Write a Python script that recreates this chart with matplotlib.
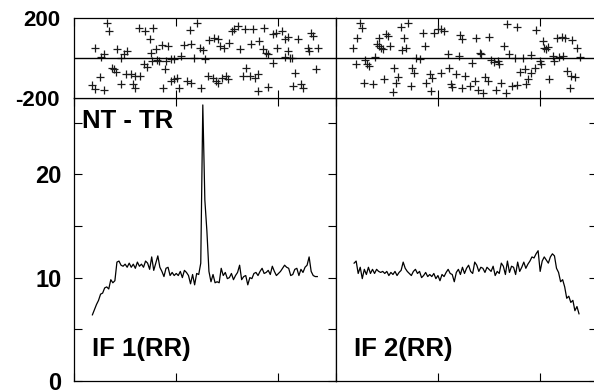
import numpy as np
import matplotlib
matplotlib.use("Agg")
import matplotlib.pyplot as plt
from matplotlib.ticker import MultipleLocator

plt.rcParams["font.family"] = ["Liberation Sans", "DejaVu Sans"]
plt.rcParams["font.weight"] = "bold"
plt.rcParams["axes.unicode_minus"] = False

# ---------------------------------------------------------------------------
# Data
# ---------------------------------------------------------------------------

CHANNELS = np.arange(18, 239, 2)

AMP_IF1 = [
    6.4, 6.9, 7.4, 7.8, 8.4, 8.5, 9.0, 9.1, 8.9, 9.8,
    9.5, 9.7, 11.5, 11.6, 11.2, 11.1, 11.3, 11.0, 11.4, 11.0,
    11.3, 10.9, 11.5, 11.1, 11.3, 11.0, 11.6, 11.4, 10.8, 12.0,
    10.7, 11.4, 12.1, 11.0, 10.6, 10.1, 10.9, 11.0, 10.2, 10.5,
    10.2, 10.4, 10.2, 10.6, 10.0, 10.7, 10.5, 10.2, 9.4, 10.3,
    9.3, 10.4, 10.3, 11.4, 26.7, 17.5, 14.5, 10.6, 9.6, 10.3,
    9.5, 9.6, 9.5, 10.9, 10.2, 10.5, 9.9, 10.0, 10.4, 9.8,
    10.2, 10.5, 11.2, 9.8, 10.1, 10.2, 9.3, 10.0, 9.9, 10.4,
    10.5, 10.2, 10.6, 10.9, 10.4, 10.5, 10.7, 10.3, 11.1, 10.6,
    10.2, 10.4, 10.6, 10.9, 11.2, 11.0, 10.9, 10.2, 10.3, 10.8,
    10.9, 10.2, 10.8, 10.5, 11.0, 11.2, 12.0, 10.6, 10.2, 10.1,
    10.1,
]

AMP_IF2 = [
    11.4, 11.6, 10.4, 11.0, 9.9, 10.8, 10.3, 11.0, 10.4, 10.8,
    10.4, 10.8, 10.6, 10.5, 10.6, 10.4, 10.6, 10.2, 10.5, 10.3,
    10.6, 10.2, 10.5, 10.7, 11.5, 10.9, 10.6, 10.4, 10.2, 10.6,
    10.8, 10.4, 10.6, 10.0, 10.2, 10.5, 10.1, 10.3, 10.1, 10.4,
    9.9, 10.2, 9.7, 10.3, 10.1, 10.5, 10.8, 10.4, 10.3, 9.6,
    10.5, 10.8, 10.3, 11.0, 10.4, 10.9, 11.2, 10.6, 10.4, 11.5,
    11.2, 10.6, 11.0, 10.9, 10.5, 11.0, 10.8, 10.6, 11.1, 10.2,
    10.6, 10.4, 11.4, 11.1, 10.3, 11.6, 10.5, 11.1, 11.0, 10.3,
    11.5, 10.6, 11.0, 11.5, 10.9, 11.3, 11.6, 12.0, 11.9, 12.3,
    12.6, 10.6, 11.6, 12.0, 11.7, 11.4, 12.0, 12.3, 12.1, 10.9,
    10.5, 9.6, 9.8, 9.1, 8.0, 8.2, 7.6, 7.8, 6.8, 7.2,
    6.5,
]

# phase points (channel, degrees)
PH_IF1_CH = [
    32, 34, 21, 29, 26, 42, 46, 49, 52, 64, 69, 77, 74, 75, 80, 86, 92,
    76, 68, 71, 81, 83, 90, 95, 98, 89, 37, 39, 41, 51, 56, 60, 65, 25,
    18, 21, 29, 46, 58, 60, 87, 98, 101, 95, 103, 111, 114, 124, 105, 108,
    114, 123, 126, 120, 113, 117, 128,
    157, 160, 155, 167, 175, 186, 195, 198, 203, 206, 209, 219, 232, 234,
    132, 137, 141, 143, 147, 152, 162, 173, 181, 185, 188, 190, 199, 209,
    229, 230, 239, 195, 206, 211, 213, 131, 136, 139, 141, 145, 149, 151,
    165, 168, 172, 177, 180, 216, 237, 180, 190, 214, 222, 224,
]
PH_IF1_DEG = [
    175, 133, 50, 20, 3, 45, 0, 17, 33, 147, 133, 147, 95, 25, 42, 63, 58,
    -17, -30, -47, -13, -17, -17, -8, -5, -58, -50, -58, -70, -83, -83, -92, -92, -97,
    -137, -158, -163, -133, -133, -153, -153, -108, -100, -117, -153, -117, -125, -150, 8, 63,
    70, 50, 37, 175, 137, 0, -8,
    142, 158, 133, 142, 142, 150, 117, 125, 133, 92, 103, 92, 125, 108,
    87, 100, 92, 58, 50, 75, 42, 67, 83, 42, 25, 17, 50, 33,
    50, 33, 50, -25, 3, 0, 0, -92, -100, -117, -125, -100, -92, -108,
    -92, -50, -92, -100, -83, -75, -58, -167, -147, -142, -133, -150,
]

PH_IF2_CH = [
    24, 26, 21, 17, 42, 40, 42, 44, 49, 51, 53, 46, 64, 71, 67, 69, 65,
    85, 87, 96, 100, 103, 106, 122, 124, 110, 121, 79, 82, 20, 29, 31, 33,
    38, 57, 75, 77, 92, 94, 103, 111, 118, 126, 28, 36, 47, 59, 61, 74,
    88, 93, 56, 113, 114, 124,
    168, 177, 196, 203, 204, 206, 208, 216, 221, 224, 231, 236, 239, 137,
    150, 165, 141, 142, 170, 175, 183, 191, 200, 201, 213, 214, 218, 222,
    133, 152, 159, 160, 155, 136, 146, 149, 131, 139, 144, 157, 162, 167,
    172, 177, 180, 185, 186, 188, 191, 195, 209, 226, 230, 234, 229,
]
PH_IF2_DEG = [
    175, 147, 97, 47, 100, 70, 58, 50, 120, 108, 58, 42, 153, 175, 97, 50, 37,
    125, 58, 125, 142, 142, 133, 113, 92, 20, 8, -3, -8, -30, -13, -33, -42,
    3, -53, -53, -75, -83, -100, -75, -53, -83, -92, -125, -130, -108, -125, -97, -142,
    -125, -167, -170, -133, -147, -150,
    170, 153, 137, 83, 50, 42, 53, 97, 103, 97, 87, 47, 3, 97,
    103, 58, 25, 17, 17, 0, -3, 13, -17, -30, 8, -17, 3, 8,
    -25, -13, -17, -30, -20, -117, -97, -117, -142, -163, -175, -163, -125, -175,
    -142, -137, -70, -58, -133, -108, -75, -50, -108, -67, -92, -97, -153,
]

PANEL_LABELS = ["IF 1(RR)", "IF 2(RR)"]
TITLE_TEXT = "NT - TR"
X_RANGE = (0, 256)
AMP_RANGE = (0, 27.4)
PH_RANGE = (-200, 200)

# ---------------------------------------------------------------------------
# Figure
# ---------------------------------------------------------------------------

fig = plt.figure(figsize=(5.94, 3.90), dpi=100)

W, H = 594.0, 390.0
x_left = [74.0 / W, 335.7 / W]
pw = 261.7 / W
amp_b, amp_h = 1 - 381.0 / H, 283.3 / H
ph_b, ph_h = 1 - 97.7 / H, 80.0 / H

amps = [AMP_IF1, AMP_IF2]
ph_ch = [PH_IF1_CH, PH_IF2_CH]
ph_deg = [PH_IF1_DEG, PH_IF2_DEG]

tick_kw = dict(direction="in", length=6, width=0.8, colors="black")

for i in range(2):
    # --- amplitude panel ---
    ax = fig.add_axes([x_left[i], amp_b, pw, amp_h])
    ax.plot(CHANNELS, amps[i], color="black", lw=0.9)
    ax.set_xlim(*X_RANGE)
    ax.set_ylim(*AMP_RANGE)
    ax.xaxis.set_major_locator(MultipleLocator(100))
    ax.yaxis.set_major_locator(MultipleLocator(10))
    ax.yaxis.set_minor_locator(MultipleLocator(5))
    ax.tick_params(which="both", top=True, bottom=True, right=True,
                   left=(i == 0), labelbottom=False, labelleft=(i == 0),
                   labelsize=17, pad=9, **tick_kw)
    ax.tick_params(which="minor", length=6)
    for s in ax.spines.values():
        s.set_linewidth(0.9)
    ax.text(0.07, 0.09, PANEL_LABELS[i], transform=ax.transAxes,
            fontsize=18.5, fontweight="bold", ha="left", va="baseline")
    if i == 0:
        ax.text(0.03, 0.893, TITLE_TEXT, transform=ax.transAxes,
                fontsize=18.5, fontweight="bold", ha="left", va="baseline")

    # --- phase panel ---
    axp = fig.add_axes([x_left[i], ph_b, pw, ph_h])
    axp.plot(ph_ch[i], ph_deg[i], ls="none", marker="+", ms=5.5,
             mew=0.9, color="#1a1a1a")
    axp.axhline(0, color="black", lw=1.0)
    axp.set_xlim(*X_RANGE)
    axp.set_ylim(*PH_RANGE)
    axp.xaxis.set_major_locator(MultipleLocator(100))
    axp.set_yticks([-200, 200])
    axp.tick_params(top=True, bottom=True, left=False, right=False,
                    labelbottom=False, labelleft=(i == 0),
                    labelsize=16, pad=10, **tick_kw)
    for s in axp.spines.values():
        s.set_linewidth(0.9)

fig.savefig("out.png", dpi=100)
